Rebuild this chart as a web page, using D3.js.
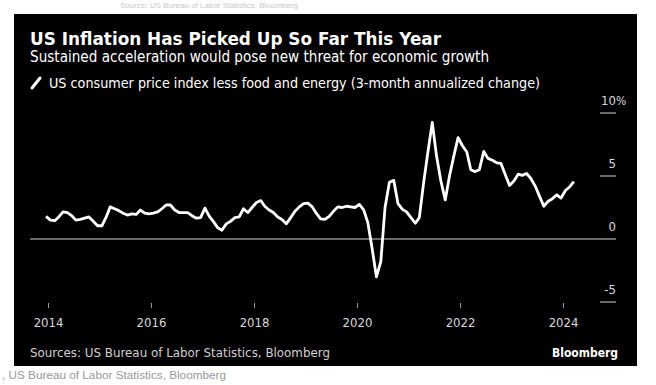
<!DOCTYPE HTML>
<html>
<head>
    <meta charset="UTF-8">
    <title>US Inflation</title>
    <script src="https://d3js.org/d3.v7.min.js"></script>
    <style type="text/css">
        body { margin: 0; background: #fff; }
        svg { display: block; }
    </style>
</head>
<body>
<svg id="svg" width="656" height="385"></svg>
<script type="text/javascript">

    // 3-month annualized change, monthly from Dec 2013 to Mar 2024
    var startYear = 2013, startMonth = 11;
    var values = [
        1.8, 1.5, 1.45, 1.75, 2.15, 2.1, 1.85, 1.5, 1.55, 1.65, 1.75, 1.4, 1.05,
        1.05, 1.75, 2.55, 2.4, 2.25, 2.05, 1.9, 2.0, 1.95, 2.3, 2.05, 2.0,
        2.05, 2.15, 2.4, 2.7, 2.7, 2.3, 2.1, 2.1, 2.1, 1.85, 1.65, 1.7,
        2.45, 1.8, 1.4, 0.9, 0.7, 1.2, 1.4, 1.7, 1.75, 2.4, 2.1, 2.5,
        2.9, 3.05, 2.6, 2.3, 2.1, 1.75, 1.55, 1.2, 1.7, 2.2, 2.55, 2.8,
        2.85, 2.55, 2.05, 1.6, 1.55, 1.8, 2.2, 2.55, 2.5, 2.6, 2.55, 2.5,
        2.75, 2.3, 1.3, -0.8, -3.0, -1.8, 2.5, 4.5, 4.65, 2.8, 2.35, 2.15,
        1.7, 1.25, 1.7, 4.5, 6.9, 9.25, 6.6, 4.6, 3.1, 5.0, 6.6, 8.05,
        7.4, 6.9, 5.5, 5.35, 5.5, 6.95, 6.4, 6.25, 6.05, 6.0, 5.1, 4.25,
        4.6, 5.15, 5.05, 5.2, 4.8, 4.2, 3.4, 2.6, 3.0, 3.2, 3.5, 3.25,
        3.85, 4.15, 4.55
    ];
    var yearTicks = [2014, 2016, 2018, 2020, 2022, 2024];
    var yTicks = [-5, 0, 5, 10];

    var title = "US Inflation Has Picked Up So Far This Year";
    var subtitle = "Sustained acceleration would pose new threat for economic growth";
    var legendLabel = "US consumer price index less food and energy (3-month annualized change)";
    var sourceText = "Sources: US Bureau of Labor Statistics, Bloomberg";

    var data = values.map(function (v, i) {
        return { date: new Date(startYear, startMonth + i, 18), value: v };
    });

    var svg = d3.select("#svg");
    var condensed = "'DejaVu Sans Condensed', 'Liberation Sans Narrow', 'DejaVu Sans', sans-serif";

    // squeeze text to the width measured on the reference
    function fit(sel, w) {
        sel.attr("textLength", w).attr("lengthAdjust", "spacingAndGlyphs");
    }

    // caption line above the panel (mostly cropped in the reference)
    svg.append("text")
        .attr("x", 120).attr("y", 8)
        .attr("font-family", "'Liberation Sans', Arial, sans-serif")
        .attr("font-size", "8px")
        .attr("fill", "#c8c8c8")
        .text("Source: US Bureau of Labor Statistics, Bloomberg");

    svg.append("rect")
        .attr("x", 14).attr("y", 14)
        .attr("width", 623).attr("height", 352)
        .attr("fill", "#000");

    fit(svg.append("text")
        .attr("x", 30).attr("y", 45)
        .attr("font-family", "'DejaVu Sans', sans-serif")
        .attr("font-weight", "bold")
        .attr("font-size", "18px")
        .attr("fill", "#fff")
        .text(title), 411);

    fit(svg.append("text")
        .attr("x", 30).attr("y", 62)
        .attr("font-family", condensed)
        .attr("font-size", "15px")
        .attr("fill", "#fff")
        .text(subtitle), 459);

    // legend
    svg.append("line")
        .attr("x1", 32).attr("y1", 88)
        .attr("x2", 40).attr("y2", 78)
        .attr("stroke", "#fff")
        .attr("stroke-width", 3)
        .attr("stroke-linecap", "round");

    fit(svg.append("text")
        .attr("x", 49).attr("y", 88)
        .attr("font-family", condensed)
        .attr("font-size", "13.5px")
        .attr("fill", "#fff")
        .text(legendLabel), 491);

    var x = d3.scaleTime()
        .domain([new Date(2014, 0, 1), new Date(2024, 0, 1)])
        .range([48, 563]);

    var y = d3.scaleLinear()
        .domain([-5, 10])
        .range([302, 113]);

    // y gridline stubs and labels on the right
    var yg = svg.append("g").attr("id", "yaxis");
    yg.selectAll("line").data(yTicks).enter().append("line")
        .attr("x1", function (d) { return d === 0 ? 30 : 600; })
        .attr("x2", 616)
        .attr("y1", function (d) { return y(d); })
        .attr("y2", function (d) { return y(d); })
        .attr("stroke", "#8c8c8c")
        .attr("stroke-width", 1.5);

    yg.selectAll("text").data(yTicks).enter().append("text")
        .attr("x", 616)
        .attr("y", function (d) { return y(d) - 8; })
        .attr("text-anchor", "end")
        .attr("font-family", condensed)
        .attr("font-size", "13px")
        .attr("fill", "#d8d8d8")
        .text(function (d) { return d; })
        .filter(function (d) { return d === 10; })
        .append("tspan")
        .attr("font-size", "12px")
        .text("%")
        .each(function () {
            // percent sign hangs past the number edge
            var w = this.getComputedTextLength();
            d3.select(this.parentNode).attr("x", 616 + w);
        });

    var xAxis = d3.axisBottom(x)
        .tickValues(yearTicks.map(function (d) { return new Date(d, 0, 1); }))
        .tickFormat(d3.timeFormat("%Y"))
        .tickSize(5)
        .tickPadding(10);

    var xg = svg.append("g")
        .attr("transform", "translate(0,303)")
        .call(xAxis);
    xg.select(".domain").remove();
    xg.selectAll("line").attr("stroke", "#9a9a9a").attr("stroke-width", 1);
    xg.selectAll("text")
        .attr("font-family", condensed)
        .attr("font-size", "13px")
        .attr("fill", "#d8d8d8");

    var line = d3.line()
        .x(function (d) { return x(d.date); })
        .y(function (d) { return y(d.value); })
        .curve(d3.curveLinear);

    svg.append("path")
        .datum(data)
        .attr("d", line)
        .attr("fill", "none")
        .attr("stroke", "#fff")
        .attr("stroke-width", 2.8)
        .attr("stroke-linejoin", "round");

    fit(svg.append("text")
        .attr("x", 30).attr("y", 357)
        .attr("font-family", condensed)
        .attr("font-size", "13px")
        .attr("fill", "#d0d0d0")
        .text(sourceText), 300);

    fit(svg.append("text")
        .attr("x", 618).attr("y", 357)
        .attr("text-anchor", "end")
        .attr("font-family", condensed)
        .attr("font-weight", "bold")
        .attr("font-size", "13px")
        .attr("fill", "#fff")
        .text("Bloomberg"), 66);

    fit(svg.append("text")
        .attr("x", 2).attr("y", 379)
        .attr("font-family", "'Liberation Sans', Arial, sans-serif")
        .attr("font-size", "11px")
        .attr("fill", "#999")
        .text(", US Bureau of Labor Statistics, Bloomberg"), 224);

</script>
</body>
</html>
